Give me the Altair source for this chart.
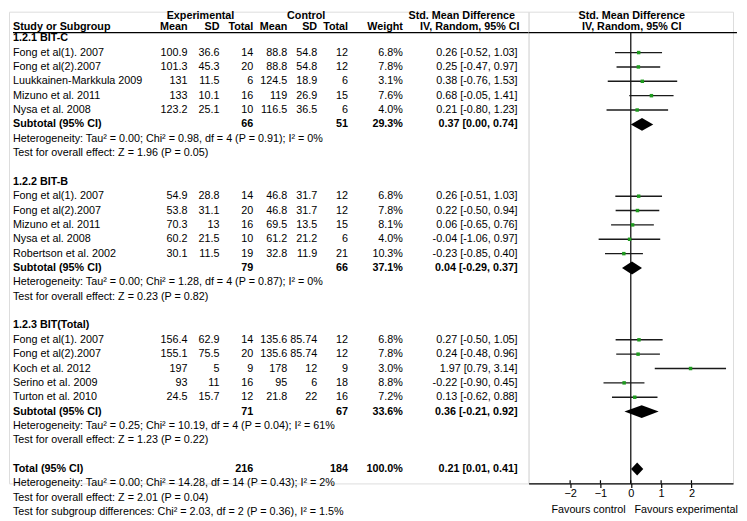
import altair as alt
import pandas as pd

# ---------------- data ----------------
groups = ["1.2.1 BIT-C", "1.2.2 BIT-B", "1.2.3 BIT(Total)"]
study = ["Fong et al(1). 2007", "Fong et al(2).2007", "Luukkainen-Markkula 2009", "Mizuno et al. 2011", "Nysa et al. 2008",
         "Fong et al(1). 2007", "Fong et al(2).2007", "Mizuno et al. 2011", "Nysa et al. 2008", "Robertson et al. 2002",
         "Fong et al(1). 2007", "Fong et al(2).2007", "Koch et al. 2012", "Serino et al. 2009", "Turton et al. 2010"]
group_idx = [0, 0, 0, 0, 0, 1, 1, 1, 1, 1, 2, 2, 2, 2, 2]
exp_mean = [100.9, 101.3, 131, 133, 123.2, 54.9, 53.8, 70.3, 60.2, 30.1, 156.4, 155.1, 197, 93, 24.5]
exp_sd = [36.6, 45.3, 11.5, 10.1, 25.1, 28.8, 31.1, 13, 21.5, 11.5, 62.9, 75.5, 5, 11, 15.7]
exp_n = [14, 20, 6, 16, 10, 14, 20, 16, 10, 19, 14, 20, 9, 16, 12]
ctl_mean = [88.8, 88.8, 124.5, 119, 116.5, 46.8, 46.8, 69.5, 61.2, 32.8, 135.6, 135.6, 178, 95, 21.8]
ctl_sd = [54.8, 54.8, 18.9, 26.9, 36.5, 31.7, 31.7, 13.5, 21.2, 11.9, 85.74, 85.74, 12, 6, 22]
ctl_n = [12, 12, 6, 15, 6, 12, 12, 15, 6, 21, 12, 12, 9, 18, 16]
weight = [6.8, 7.8, 3.1, 7.6, 4.0, 6.8, 7.8, 8.1, 4.0, 10.3, 6.8, 7.8, 3.0, 8.8, 7.2]
smd = [0.26, 0.25, 0.38, 0.68, 0.21, 0.26, 0.22, 0.06, -0.04, -0.23, 0.27, 0.24, 1.97, -0.22, 0.13]
ci_lo = [-0.52, -0.47, -0.76, -0.05, -0.80, -0.51, -0.50, -0.65, -1.06, -0.85, -0.50, -0.48, 0.79, -0.90, -0.62]
ci_hi = [1.03, 0.97, 1.53, 1.41, 1.23, 1.03, 0.94, 0.76, 0.97, 0.40, 1.05, 0.96, 3.14, 0.45, 0.88]

sub_exp_n = [66, 79, 71]
sub_ctl_n = [51, 66, 67]
sub_weight = [29.3, 37.1, 33.6]
sub_smd = [0.37, 0.04, 0.36]
sub_lo = [0.00, -0.29, -0.21]
sub_hi = [0.74, 0.37, 0.92]
sub_het = ["Heterogeneity: Tau² = 0.00; Chi² = 0.98, df = 4 (P = 0.91); I² = 0%",
           "Heterogeneity: Tau² = 0.00; Chi² = 1.28, df = 4 (P = 0.87); I² = 0%",
           "Heterogeneity: Tau² = 0.25; Chi² = 10.19, df = 4 (P = 0.04); I² = 61%"]
sub_z = ["Test for overall effect: Z = 1.96 (P = 0.05)",
         "Test for overall effect: Z = 0.23 (P = 0.82)",
         "Test for overall effect: Z = 1.23 (P = 0.22)"]

tot_exp_n = 216
tot_ctl_n = 184
tot_weight = 100.0
tot_smd = 0.21
tot_lo = 0.01
tot_hi = 0.41
tot_notes = ["Heterogeneity: Tau² = 0.00; Chi² = 14.28, df = 14 (P = 0.43); I² = 2%",
             "Test for overall effect: Z = 2.01 (P = 0.04)",
             "Test for subgroup differences: Chi² = 2.03, df = 2 (P = 0.36), I² = 1.5%"]

axis_ticks = [-2, -1, 0, 1, 2]

# ---------------- layout ----------------
FONT = "Liberation Sans"
FS = 10.8
ROW_PX = 14.4
Y0 = 2.2 / ROW_PX
AXIS_ROW = 33
H = (AXIS_ROW - Y0) * ROW_PX
LEFT_W, RIGHT_W = 521, 205
XL = [8, 529]
XF = [-3.37, 3.37]
HDR0, HDR1, RULE_R = 0.465, 1.222, 1.61
col = dict(label=12, em=187, esd=219, en=253, cm=287, csd=317, cn=348, w=403, smd=518)
hdr_center = dict(exp=200, ctl=306, smd1=462, smd2=470)


def g(v):
    return f"{v:g}"


def smd_txt(e, l, h):
    return f"{e:.2f} [{l:.2f}, {h:.2f}]"


cells = []


def add(x, row, text, bold=False, align="right"):
    cells.append(dict(x=x, row=row, text=text, bold=bold, align=align))


add(hdr_center["exp"], HDR0, "Experimental", True, "center")
add(hdr_center["ctl"], HDR0, "Control", True, "center")
add(hdr_center["smd1"], HDR0, "Std. Mean Difference", True, "center")
add(col["label"], HDR1, "Study or Subgroup", True, "left")
for k, t in [("em", "Mean"), ("esd", "SD"), ("en", "Total"), ("cm", "Mean"), ("csd", "SD"), ("cn", "Total"), ("w", "Weight")]:
    add(col[k], HDR1, t, True)
add(hdr_center["smd2"], HDR1, "IV, Random, 95% CI", True, "center")

study_rows = []
sub_rows = []
for gi, gname in enumerate(groups):
    base = 2 + 10 * gi
    add(col["label"], base, gname, True, "left")
    k = 0
    for i in range(len(study)):
        if group_idx[i] != gi:
            continue
        r = base + 1 + k
        k += 1
        study_rows.append(r)
        add(col["label"], r, study[i], False, "left")
        add(col["em"], r, g(exp_mean[i]))
        add(col["esd"], r, g(exp_sd[i]))
        add(col["en"], r, g(exp_n[i]))
        add(col["cm"], r, g(ctl_mean[i]))
        add(col["csd"], r, g(ctl_sd[i]))
        add(col["cn"], r, g(ctl_n[i]))
        add(col["w"], r, f"{weight[i]:.1f}%")
        add(col["smd"], r, smd_txt(smd[i], ci_lo[i], ci_hi[i]))
    rs = base + 6
    sub_rows.append(rs)
    add(col["label"], rs, "Subtotal (95% CI)", True, "left")
    add(col["en"], rs, g(sub_exp_n[gi]), True)
    add(col["cn"], rs, g(sub_ctl_n[gi]), True)
    add(col["w"], rs, f"{sub_weight[gi]:.1f}%", True)
    add(col["smd"], rs, smd_txt(sub_smd[gi], sub_lo[gi], sub_hi[gi]), True)
    add(col["label"], rs + 1, sub_het[gi], False, "left")
    add(col["label"], rs + 2, sub_z[gi], False, "left")

TOT_ROW = 32
add(col["label"], TOT_ROW, "Total (95% CI)", True, "left")
add(col["en"], TOT_ROW, g(tot_exp_n), True)
add(col["cn"], TOT_ROW, g(tot_ctl_n), True)
add(col["w"], TOT_ROW, f"{tot_weight:.1f}%", True)
add(col["smd"], TOT_ROW, smd_txt(tot_smd, tot_lo, tot_hi), True)
for j, t in enumerate(tot_notes):
    add(col["label"], TOT_ROW + 1 + j, t, False, "left")

cells = pd.DataFrame(cells)

ys = alt.Scale(domain=[Y0, AXIS_ROW], reverse=True, nice=False, zero=False)
xls = alt.Scale(domain=XL, nice=False, zero=False)

left_layers = []
for (bold, align), sub in cells.groupby(["bold", "align"]):
    left_layers.append(
        alt.Chart(sub.reset_index(drop=True)).mark_text(
            align=align, baseline="middle", fontSize=FS, font=FONT,
            fontWeight="bold" if bold else "normal", color="black"
        ).encode(
            x=alt.X("x:Q", scale=xls, axis=None),
            y=alt.Y("row:Q", scale=ys, axis=None),
            text="text:N",
        )
    )
left_rule = alt.Chart(pd.DataFrame({"x": [col["label"]], "x2": [XL[1]], "row": [RULE_R]})).mark_rule(
    color="black", strokeWidth=1.2
).encode(x=alt.X("x:Q", scale=xls, axis=None), x2="x2:Q", y=alt.Y("row:Q", scale=ys, axis=None))

left = alt.layer(left_rule, *left_layers).properties(width=LEFT_W, height=H)

# ---------------- forest panel ----------------
xfs = alt.Scale(domain=XF, nice=False, zero=False)
xaxis = alt.Axis(values=axis_ticks, title=None, grid=False, tickSize=4, tickColor="black",
                 domainColor="black", labelColor="black", labelFontSize=11, labelFont=FONT,
                 labelPadding=0, domainWidth=1.2, tickWidth=1.2, format="d")


def X(f):
    return alt.X(f, type="quantitative", scale=xfs, axis=xaxis)


def Y(f):
    return alt.Y(f, type="quantitative", scale=ys, axis=None)


studies_df = pd.DataFrame({"smd": smd, "lo": ci_lo, "hi": ci_hi, "row": study_rows, "w": weight})

ci = alt.Chart(studies_df).mark_rule(color="#1a1a1a", strokeWidth=1.4).encode(x=X("lo"), x2="hi:Q", y=Y("row"))
sq = alt.Chart(studies_df).mark_square(color="#1e9a1e", size=12, opacity=1).encode(x=X("smd"), y=Y("row"))

dia = []
sum_est = sub_smd + [tot_smd]
sum_lo = sub_lo + [tot_lo]
sum_hi = sub_hi + [tot_hi]
sum_row = sub_rows + [TOT_ROW]
HALF = 0.45
for k in range(len(sum_est)):
    r = sum_row[k]
    dia.append(dict(id=k, x=sum_lo[k], y=r, y2=r))
    dia.append(dict(id=k, x=sum_est[k], y=r - HALF, y2=r + HALF))
    dia.append(dict(id=k, x=sum_hi[k], y=r, y2=r))
dia = pd.DataFrame(dia)
diamonds = alt.Chart(dia).mark_area(color="black", orient="vertical", opacity=1).encode(
    x=X("x"), y=Y("y"), y2="y2:Q", detail="id:N"
)

zero = alt.Chart(pd.DataFrame({"x": [0], "y": [RULE_R], "y2": [AXIS_ROW]})).mark_rule(
    color="black", strokeWidth=1.2
).encode(x=X("x"), y=Y("y"), y2="y2:Q")

hrule = alt.Chart(pd.DataFrame({"x": [XF[0]], "x2": [3.5], "y": [RULE_R]})).mark_rule(
    color="black", strokeWidth=1.2
).encode(x=X("x"), x2="x2:Q", y=Y("y"))

stubs = alt.Chart(pd.DataFrame({"x": axis_ticks, "y": [AXIS_ROW - 0.22] * len(axis_ticks), "y2": [AXIS_ROW] * len(axis_ticks)})).mark_rule(
    color="black", strokeWidth=1.2
).encode(x=X("x"), y=Y("y"), y2="y2:Q")

fhead = alt.Chart(pd.DataFrame({"x": [0.03, 0.03], "y": [HDR0, HDR1], "t": ["Std. Mean Difference", "IV, Random, 95% CI"]})).mark_text(
    align="center", baseline="middle", fontSize=FS, font=FONT, fontWeight="bold", color="black"
).encode(x=X("x"), y=Y("y"), text="t:N")

fav_l = alt.Chart(pd.DataFrame({"x": [-0.17], "y": [34.85], "t": ["Favours control"]})).mark_text(
    align="right", baseline="middle", fontSize=FS, font=FONT, color="black"
).encode(x=X("x"), y=Y("y"), text="t:N")
fav_r = alt.Chart(pd.DataFrame({"x": [0.12], "y": [34.85], "t": ["Favours experimental"]})).mark_text(
    align="left", baseline="middle", fontSize=FS, font=FONT, color="black"
).encode(x=X("x"), y=Y("y"), text="t:N")

right = alt.layer(hrule, zero, ci, sq, diamonds, stubs, fhead, fav_l, fav_r).properties(width=RIGHT_W, height=H)

chart = alt.hconcat(left, right, spacing=0).properties(
    padding=0, bounds="flush"
).configure_view(stroke=None).configure(font=FONT)

chart.save("out.html", embed_options={"renderer": "svg", "actions": False})
